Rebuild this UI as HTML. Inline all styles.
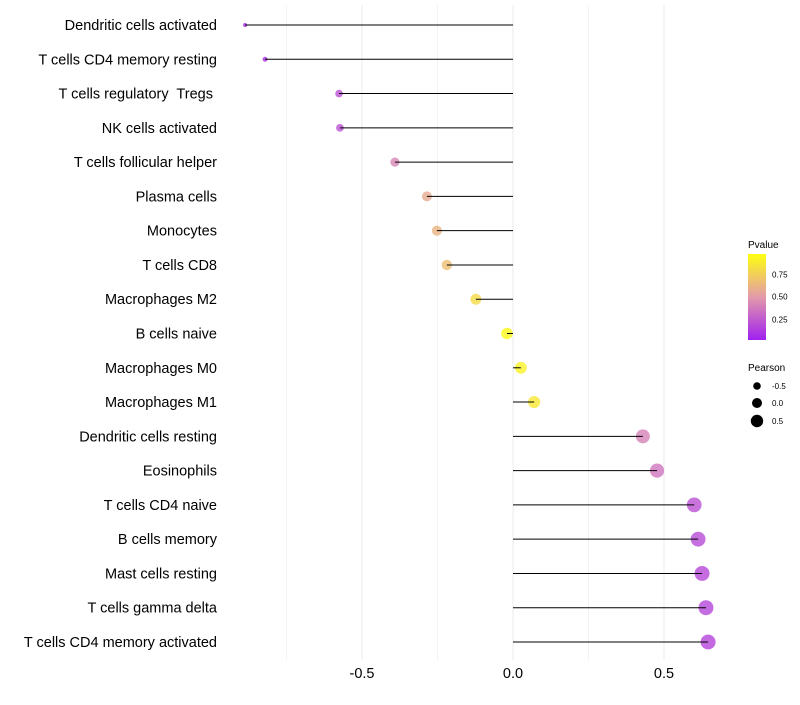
<!DOCTYPE html>
<html><head><meta charset="utf-8"><style>
body{margin:0;background:#fff;font-family:"Liberation Sans",sans-serif}
text{white-space:pre}
</style></head><body>
<svg id="chart" width="800" height="700" xmlns="http://www.w3.org/2000/svg">
<g id="grid"></g>
<g id="marks"></g>
<g id="stems"></g>
<g id="labels"></g>
<g id="xaxis"></g>
<g id="legend">
<defs><linearGradient id="pg" x1="0" y1="1" x2="0" y2="0">
<stop offset="0" stop-color="#a020f0"/><stop offset="0.5" stop-color="#e39aaa"/><stop offset="1" stop-color="#ffff10"/></linearGradient></defs>
<text x="748" y="248" font-size="10">Pvalue</text>
<rect x="748" y="254" width="18" height="86" fill="url(#pg)"/>
<text x="772" y="277.5" font-size="8">0.75</text>
<text x="772" y="299.5" font-size="8">0.50</text>
<text x="772" y="322.5" font-size="8">0.25</text>
<text x="748" y="371" font-size="10">Pearson</text>
<circle cx="757" cy="386" r="3.8"/><text x="772" y="389" font-size="8">-0.5</text>
<circle cx="757" cy="403" r="5"/><text x="772" y="406" font-size="8">0.0</text>
<circle cx="757" cy="421" r="6.2"/><text x="772" y="424" font-size="8">0.5</text>
</g>
</svg>
<script>
const categories=["Dendritic cells activated","T cells CD4 memory resting","T cells regulatory  Tregs ","NK cells activated","T cells follicular helper","Plasma cells","Monocytes","T cells CD8","Macrophages M2","B cells naive","Macrophages M0","Macrophages M1","Dendritic cells resting","Eosinophils","T cells CD4 naive","B cells memory","Mast cells resting","T cells gamma delta","T cells CD4 memory activated"];
const pearson=[-0.887,-0.821,-0.576,-0.573,-0.391,-0.285,-0.252,-0.219,-0.123,-0.02,0.026,0.07,0.43,0.477,0.6,0.613,0.626,0.639,0.646];
const pvalue=[0.02,0.05,0.2,0.2,0.42,0.58,0.63,0.68,0.82,0.97,0.93,0.88,0.4,0.35,0.2,0.18,0.17,0.16,0.15];
const xTicks=[-0.5,0,0.5];
const xTickLabels=["-0.5","0.0","0.5"];
const NS="http://www.w3.org/2000/svg";
const x=v=>513+v*302;
const y=i=>25+i*(617/18);
function mk(t,a,p){const e=document.createElementNS(NS,t);for(const k in a)e.setAttribute(k,a[k]);p.appendChild(e);return e;}
function lerp(a,b,t){return a+(b-a)*t}
function col(p){const s=[[160,32,240],[227,154,170],[255,255,16]];let a,b,t;if(p<0.5){a=s[0];b=s[1];t=p/0.5}else{a=s[1];b=s[2];t=(p-0.5)/0.5}return `rgb(${a.map((v,i)=>Math.round(lerp(v,b[i],t))).join(",")})`;}
const mn=Math.min(...pearson),mx=Math.max(...pearson);
const rad=v=>Math.sqrt(lerp(2*2,7.5*7.5,(v-mn)/(mx-mn)));
const grid=document.getElementById("grid"),marks=document.getElementById("marks"),stems=document.getElementById("stems"),labels=document.getElementById("labels"),xa=document.getElementById("xaxis");
[-0.75,-0.5,-0.25,0,0.25,0.5].forEach(v=>{
const l=mk("line",{x1:x(v),x2:x(v),y1:5,y2:660,stroke:"#ebebeb","stroke-width":v*4%2===0?1:0.6},grid);


});
categories.forEach((c,i)=>{
const pt=mk("circle",{cx:x(pearson[i]),cy:y(i),r:rad(pearson[i]),fill:col(pvalue[i]),"fill-opacity":0.8},marks);


const ln=mk("line",{x1:x(0),x2:x(pearson[i]),y1:y(i),y2:y(i),stroke:"#000","stroke-width":1},stems);


const t=mk("text",{x:217,y:y(i)+5,"text-anchor":"end","font-size":14.5,fill:"#000"},labels);
t.textContent=c;


});
xTicks.forEach((v,i)=>{
const t=mk("text",{x:x(v),y:678,"text-anchor":"middle","font-size":14.5,fill:"#000"},xa);
t.textContent=xTickLabels[i];


});
</script>
</body></html>
